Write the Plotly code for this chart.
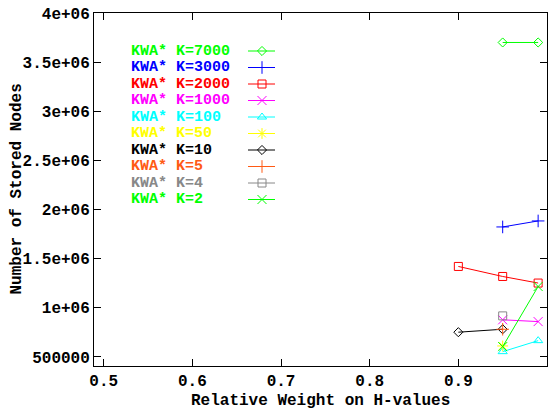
import plotly.graph_objects as go

# ---- data ----
labels = ["KWA* K=7000", "KWA* K=3000", "KWA* K=2000", "KWA* K=1000", "KWA* K=100",
          "KWA* K=50", "KWA* K=10", "KWA* K=5", "KWA* K=4", "KWA* K=2"]
x_k7000 = [0.95, 0.99]; y_k7000 = [3700000, 3700000]
x_k3000 = [0.95, 0.99]; y_k3000 = [1823000, 1884000]
x_k2000 = [0.90, 0.95, 0.99]; y_k2000 = [1421000, 1319000, 1252000]
x_k1000 = [0.95, 0.99]; y_k1000 = [878000, 860000]
x_k100 = [0.95, 0.99]; y_k100 = [554000, 666000]
x_k50 = [0.95]; y_k50 = [612000]
x_k10 = [0.90, 0.95]; y_k10 = [752000, 782000]
x_k5 = [0.95]; y_k5 = [782000]
x_k4 = [0.95]; y_k4 = [918000]
x_k2 = [0.95, 0.99]; y_k2 = [605000, 1217000]

xs = [x_k7000, x_k3000, x_k2000, x_k1000, x_k100, x_k50, x_k10, x_k5, x_k4, x_k2]
ys = [y_k7000, y_k3000, y_k2000, y_k1000, y_k100, y_k50, y_k10, y_k5, y_k4, y_k2]

x_ticks = [0.5, 0.6, 0.7, 0.8, 0.9, 1.0]
x_ticktext = ["0.5", "0.6", "0.7", "0.8", "0.9", "1"]
y_ticks = [500000, 1000000, 1500000, 2000000, 2500000, 3000000, 3500000, 4000000]
y_ticktext = ["500000", "1e+06", "1.5e+06", "2e+06", "2.5e+06", "3e+06", "3.5e+06", "4e+06"]

# ---- styles ----
colors = ["#00ff00", "#0000ff", "#ff0000", "#ff00ff", "#00ffff",
          "#ffff00", "#000000", "#ff5a14", "#888888", "#00ff00"]
symbols = ["diamond-open", "cross-thin-open", "square-open", "x-thin-open", "triangle-up-open",
           "asterisk-open", "diamond-open", "cross-thin-open", "square-open", "x-thin-open"]
sizes = [7, 9, 8, 9, 8, 9, 7, 9, 8, 9]

FONT = "Liberation Mono"
FS = 16
LFS = 15
L, R, T, B = 94, 2, 13, 47
W, H = 549, 413

fig = go.Figure()
for i in range(len(labels)):
    fig.add_trace(go.Scatter(
        x=xs[i], y=ys[i], mode="lines+markers",
        line=dict(color=colors[i], width=1),
        marker=dict(symbol=symbols[i], size=sizes[i], color=colors[i],
                    line=dict(color=colors[i], width=1)),
        showlegend=False, hoverinfo="skip"))

# manual legend (pixel-coordinate overlay axis)
leg_y0 = 51
leg_dy = 16.5
for i in range(len(labels)):
    yy = leg_y0 + i * leg_dy
    fig.add_trace(go.Scatter(
        x=[248, 275], y=[yy, yy], mode="lines", xaxis="x2", yaxis="y2",
        line=dict(color=colors[i], width=1), showlegend=False, hoverinfo="skip"))
    fig.add_trace(go.Scatter(
        x=[262], y=[yy], mode="markers", xaxis="x2", yaxis="y2",
        marker=dict(symbol=symbols[i], size=sizes[i], color=colors[i],
                    line=dict(color=colors[i], width=1)),
        showlegend=False, hoverinfo="skip"))
    fig.add_annotation(x=130, y=yy, xref="x2", yref="y2", text="<b>" + labels[i] + "</b>",
                       showarrow=False, xanchor="left", yanchor="middle", borderpad=0,
                       font=dict(family=FONT, size=LFS, color=colors[i]))

axis_common = dict(showline=True, linecolor="black", linewidth=1, mirror="ticks",
                   ticks="inside", ticklen=7, tickcolor="black", showgrid=False, zeroline=False,
                   tickfont=dict(family=FONT, size=FS, color="black"))

fig.update_layout(
    width=W, height=H,
    margin=dict(l=L, r=R, t=T, b=B),
    paper_bgcolor="white", plot_bgcolor="white",
    xaxis=dict(range=[0.489, 1.0], tickvals=x_ticks, ticktext=["<b>%s</b>" % t for t in x_ticktext],
               **axis_common),
    yaxis=dict(range=[408000, 4000000], tickvals=y_ticks, ticktext=["<b>%s</b>" % t for t in y_ticktext],
               **axis_common),
    xaxis2=dict(overlaying="x", range=[L, W - R], visible=False, fixedrange=True),
    yaxis2=dict(overlaying="y", range=[H - B, T], visible=False, fixedrange=True),
)

fig.add_annotation(x=0.5, y=0, xref="paper", yref="paper", yanchor="top", yshift=-24,
                   text="<b>Relative Weight on H-values</b>", showarrow=False,
                   font=dict(family=FONT, size=FS, color="black"))
fig.add_annotation(x=0, y=0.5, xref="paper", yref="paper", xanchor="center", yanchor="middle",
                   xshift=-78, text="<b>Number of Stored Nodes</b>", textangle=-90, showarrow=False,
                   font=dict(family=FONT, size=FS, color="black"))

fig.write_html("out.html", config={"displayModeBar": False},
               post_script="document.body.style.margin='0';document.body.style.overflow='hidden';")
